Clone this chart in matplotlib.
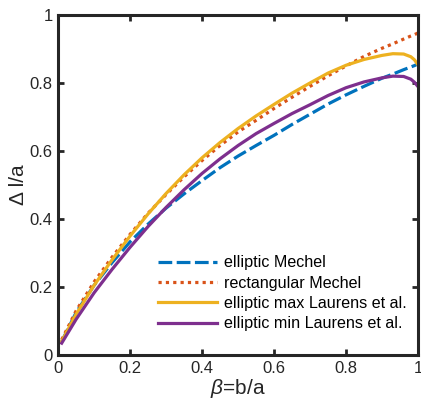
import numpy as np
import matplotlib
matplotlib.use('Agg')
import matplotlib.pyplot as plt

params = {
    'font.family': 'Liberation Sans',
    'mathtext.fontset': 'custom',
    'mathtext.rm': 'Liberation Sans',
    'mathtext.it': 'Liberation Sans:italic',
    'font.size': 11,
    'axes.linewidth': 2.2,
}
plt.rcParams.update(params)

#%% values

beta = [0.01, 0.05, 0.1, 0.15, 0.2, 0.25, 0.3, 0.35, 0.4, 0.45, 0.5, 0.55,
        0.6, 0.65, 0.7, 0.75, 0.8, 0.85, 0.9, 0.93, 0.96, 0.98, 0.99, 1.0]

ell_mechel = [0.04, 0.125, 0.205, 0.272, 0.333, 0.385, 0.432, 0.474, 0.513,
              0.551, 0.585, 0.616, 0.646, 0.678, 0.708, 0.738, 0.765, 0.79,
              0.814, 0.826, 0.839, 0.847, 0.851, 0.856]

rect_mechel = [0.045, 0.13, 0.215, 0.288, 0.355, 0.417, 0.472, 0.524, 0.572,
               0.616, 0.656, 0.69, 0.725, 0.758, 0.79, 0.821, 0.85, 0.878,
               0.902, 0.915, 0.929, 0.938, 0.942, 0.947]

ell_max = [0.04, 0.12, 0.205, 0.28, 0.35, 0.415, 0.475, 0.53, 0.58, 0.625,
           0.666, 0.703, 0.737, 0.77, 0.80, 0.829, 0.852, 0.869, 0.881,
           0.886, 0.885, 0.877, 0.868, 0.853]

ell_min = [0.035, 0.105, 0.183, 0.252, 0.317, 0.378, 0.434, 0.486, 0.534,
           0.577, 0.616, 0.651, 0.681, 0.71, 0.736, 0.763, 0.786, 0.803,
           0.815, 0.82, 0.819, 0.811, 0.802, 0.789]

labels = ['elliptic Mechel', 'rectangular Mechel',
          'elliptic max Laurens et al.', 'elliptic min Laurens et al.']

ticks = [0, 0.2, 0.4, 0.6, 0.8, 1]
tick_labels = ['0', '0.2', '0.4', '0.6', '0.8', '1']

#%%

fig = plt.figure(figsize=(4.21, 4.03), dpi=100)
ax = fig.add_axes([0.138, 0.119, 0.855, 0.844])

lw = 2.3
ax.plot(beta, ell_mechel, color='#0072BD', lw=lw, dashes=(4.3, 1.4), label=labels[0])
ax.plot(beta, rect_mechel, color='#D95319', lw=lw, dashes=(1.0, 1.3), label=labels[1])
ax.plot(beta, ell_max, color='#EDB120', lw=lw, label=labels[2])
ax.plot(beta, ell_min, color='#7E2F8E', lw=lw, label=labels[3])

ax.set_xlim(0, 1)
ax.set_ylim(0, 1)
ax.set_xticks(ticks)
ax.set_xticklabels(tick_labels)
ax.set_yticks(ticks)
ax.set_yticklabels(tick_labels)
ax.tick_params(direction='in', length=4, width=2, top=True, right=True,
               labelsize=12, colors='#262626', pad=4)
for s in ax.spines.values():
    s.set_color('#262626')

ax.set_xlabel(r'$\beta$=b/a', fontsize=15, color='#262626', labelpad=1)
ax.set_ylabel('Δ l/a', fontsize=15, color='#262626', labelpad=1)

ax.legend(loc='upper left', bbox_to_anchor=(0.277, 0.293), frameon=False,
          fontsize=11.6, handlelength=3.7, handletextpad=0.4, labelspacing=0.33,
          borderpad=0, borderaxespad=0)

plt.savefig('out.png', dpi=100)
